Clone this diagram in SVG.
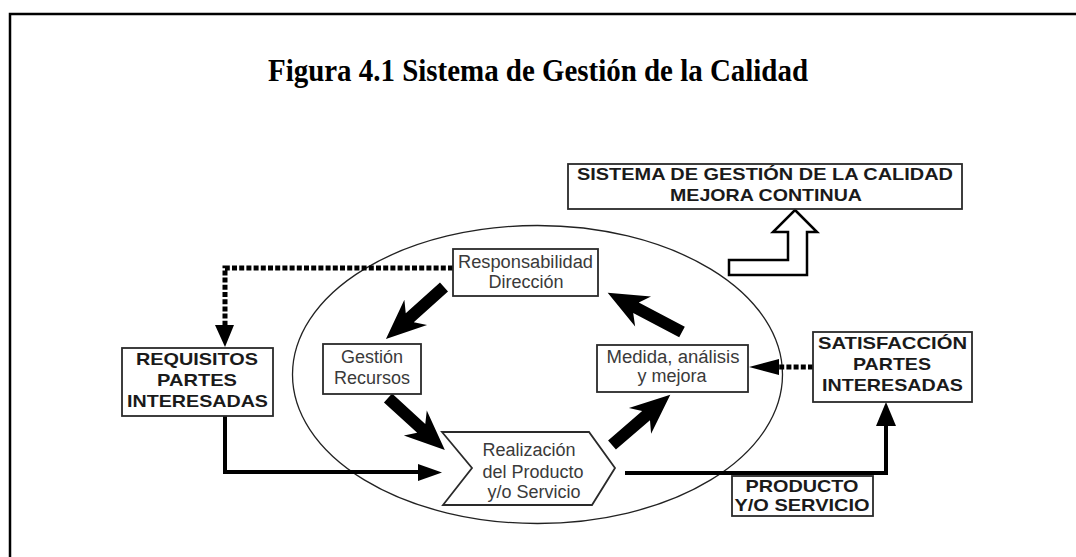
<svg xmlns="http://www.w3.org/2000/svg" width="1076" height="557" viewBox="0 0 1076 557">
<style>
.box{fill:#fff;stroke:#2a2a2a;stroke-width:1.8}
.cap{font-family:"Liberation Sans",Arial,sans-serif;font-weight:bold;font-size:17px;fill:#1a1a1a;text-anchor:middle}
.lbl{font-family:"Liberation Sans",Arial,sans-serif;font-size:18px;fill:#3a3a3a;text-anchor:middle}
.dot{fill:none;stroke:#000;stroke-width:5;stroke-dasharray:5 2.2}
.sol{fill:none;stroke:#000;stroke-width:4}
.blk{fill:#000}
</style>
<rect width="1076" height="557" fill="#fff"/>
<path d="M10,557 V14 H1076" fill="none" stroke="#000" stroke-width="2.5"/>
<text x="538" y="81" font-family="'Liberation Serif','Times New Roman',serif" font-weight="bold" font-size="31" text-anchor="middle" textLength="540" lengthAdjust="spacingAndGlyphs">Figura 4.1 Sistema de Gestión de la Calidad</text>

<ellipse cx="537.5" cy="374.5" rx="245" ry="149" fill="none" stroke="#222" stroke-width="1.3"/>

<g id="connectors">
  <path class="dot" d="M453,268 H225 V327"/>
  <polygon class="blk" points="215,325 234,325 225,347"/>
  <path class="dot" d="M813,367 H776"/>
  <polygon class="blk" points="779,359 779,375 749,367"/>
  <path class="sol" d="M225,416 V472 H420"/>
  <polygon class="blk" points="418,464 418,481 442,472.5"/>
  <path class="sol" d="M625,473 H886 V424"/>
  <polygon class="blk" points="876,426 896,426 886,402"/>
  <path class="blk" transform="translate(444,287) rotate(138.1)" d="M0,-6 H46 L38,-17 L78,0 L38,17 L46,6 H0 Z"/>
  <path class="blk" transform="translate(388,398) rotate(42.4)" d="M0,-6 H45 L37,-17 L77,0 L37,17 L45,6 H0 Z"/>
  <path class="blk" transform="translate(612,445) rotate(-40.8)" d="M0,-6 H45 L37,-17 L77,0 L37,17 L45,6 H0 Z"/>
  <path class="blk" transform="translate(682,332) rotate(-152.2)" d="M0,-6 H52 L44,-17 L84,0 L44,17 L52,6 H0 Z"/>
  <polygon points="795,210 817,232 807,232 807,275 729,275 729,260 788,260 788,232 773,232" fill="#fff" stroke="#000" stroke-width="2.5" stroke-linejoin="miter"/>
</g>

<g id="sgc">
  <rect class="box" x="568" y="164" width="394" height="45"/>
  <text class="cap" x="765" y="180" textLength="376" lengthAdjust="spacingAndGlyphs">SISTEMA DE GESTIÓN DE LA CALIDAD</text>
  <text class="cap" x="766" y="201" textLength="192" lengthAdjust="spacingAndGlyphs">MEJORA CONTINUA</text>
</g>

<g id="responsabilidad">
  <rect class="box" x="453" y="249" width="145" height="47"/>
  <text class="lbl" x="525.5" y="268" textLength="135" lengthAdjust="spacingAndGlyphs">Responsabilidad</text>
  <text class="lbl" x="526" y="288">Dirección</text>
</g>

<g id="gestion">
  <rect class="box" x="323" y="344" width="98" height="50"/>
  <text class="lbl" x="372" y="363">Gestión</text>
  <text class="lbl" x="372" y="384">Recursos</text>
</g>

<g id="medida">
  <rect class="box" x="597" y="345" width="151" height="47"/>
  <text class="lbl" x="673" y="363" textLength="133" lengthAdjust="spacingAndGlyphs">Medida, análisis</text>
  <text class="lbl" x="672" y="382">y mejora</text>
</g>

<g id="realizacion">
  <polygon class="box" points="442,432 589,432 615,468 592,505 443,505 472,468"/>
  <text class="lbl" x="529" y="456">Realización</text>
  <text class="lbl" x="533" y="478">del Producto</text>
  <text class="lbl" x="534" y="498">y/o Servicio</text>
</g>

<g id="requisitos">
  <rect class="box" x="122" y="348" width="151" height="68"/>
  <text class="cap" x="197" y="365" textLength="122" lengthAdjust="spacingAndGlyphs">REQUISITOS</text>
  <text class="cap" x="197" y="386" textLength="80" lengthAdjust="spacingAndGlyphs">PARTES</text>
  <text class="cap" x="197.5" y="407" textLength="141" lengthAdjust="spacingAndGlyphs">INTERESADAS</text>
</g>

<g id="satisfaccion">
  <rect class="box" x="813" y="332" width="159" height="70"/>
  <text class="cap" x="892.5" y="349" textLength="149" lengthAdjust="spacingAndGlyphs">SATISFACCIÓN</text>
  <text class="cap" x="892" y="370" textLength="78" lengthAdjust="spacingAndGlyphs">PARTES</text>
  <text class="cap" x="892.5" y="391" textLength="141" lengthAdjust="spacingAndGlyphs">INTERESADAS</text>
</g>

<g id="producto">
  <rect class="box" x="732" y="476" width="141" height="40"/>
  <text class="cap" x="802" y="492" textLength="113" lengthAdjust="spacingAndGlyphs">PRODUCTO</text>
  <text class="cap" x="802" y="511" textLength="135" lengthAdjust="spacingAndGlyphs">Y/O SERVICIO</text>
</g>
</svg>
